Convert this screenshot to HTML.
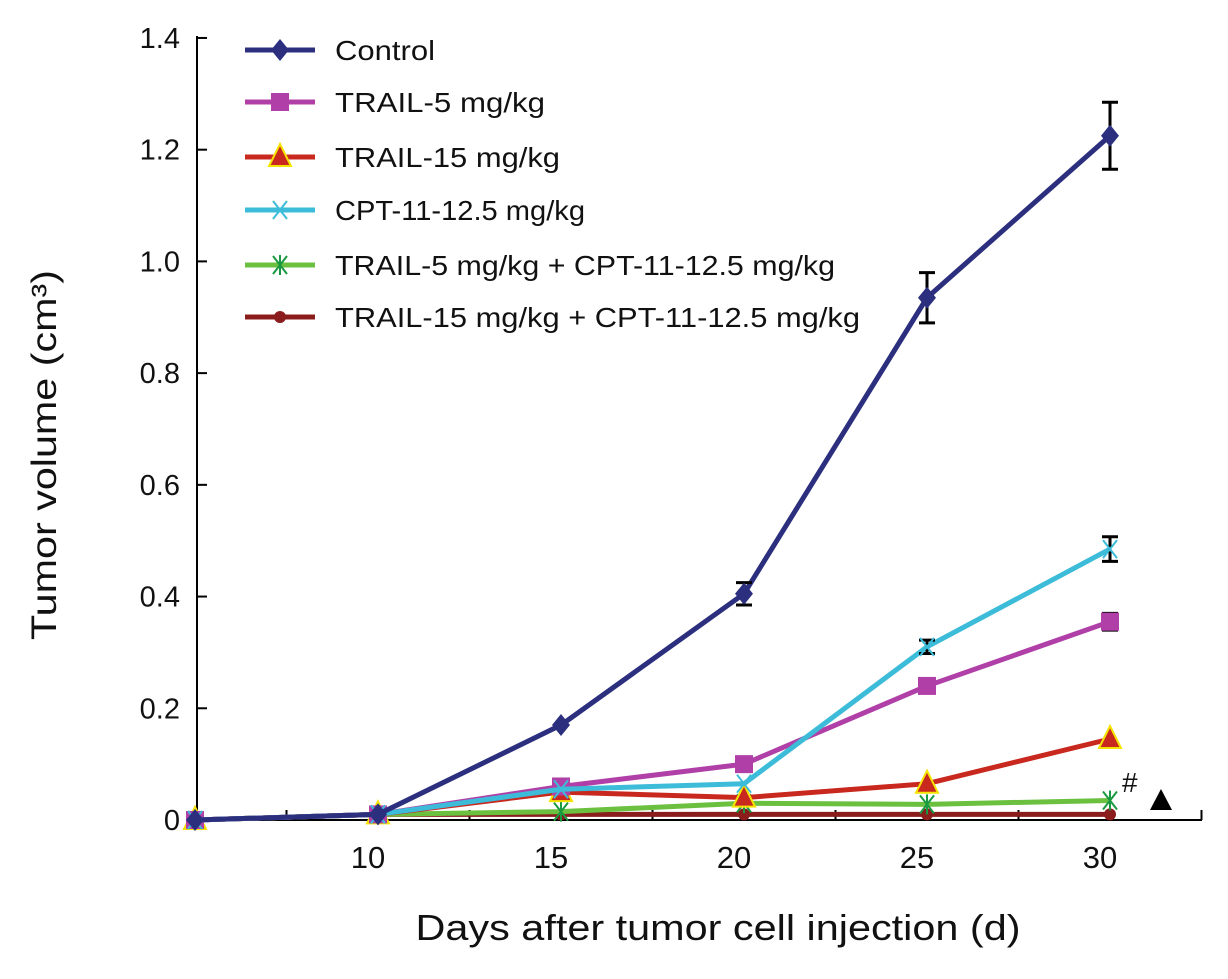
<!DOCTYPE html>
<html><head><meta charset="utf-8"><style>
html,body{margin:0;padding:0;background:#fff;}
svg text{font-family:"Liberation Sans Narrow","Liberation Sans",Arial,sans-serif;}
</style></head><body>
<svg id="chart" width="1228" height="974" viewBox="0 0 1228 974" xmlns="http://www.w3.org/2000/svg">
<g id="axes"></g>
<g id="series"></g>
<g id="legend"></g>
<text x="56" y="455" font-size="35" text-anchor="middle" textLength="370" lengthAdjust="spacingAndGlyphs" transform="rotate(-90 56 455)" fill="#111">Tumor volume (cm³)</text>
<text x="718" y="940" font-size="36" text-anchor="middle" textLength="605" lengthAdjust="spacingAndGlyphs" fill="#111">Days after tumor cell injection (d)</text>
<text x="1122" y="792" font-size="28" fill="#111">#</text>
<polygon points="1150,810 1172,810 1161,789" fill="#000"/>
</svg>
<script>
const days = [5, 10, 15, 20, 25, 30];
const xTickLabels = ["10", "15", "20", "25", "30"];
const yTicks = [0, 0.2, 0.4, 0.6, 0.8, 1.0, 1.2, 1.4];
const yTickLabels = ["0", "0.2", "0.4", "0.6", "0.8", "1.0", "1.2", "1.4"];
const seriesNames = ["Control", "TRAIL-5 mg/kg", "TRAIL-15 mg/kg", "CPT-11-12.5 mg/kg", "TRAIL-5 mg/kg + CPT-11-12.5 mg/kg", "TRAIL-15 mg/kg + CPT-11-12.5 mg/kg"];
const controlVals = [0, 0.01, 0.17, 0.405, 0.935, 1.225];
const trail5Vals = [0, 0.01, 0.06, 0.10, 0.24, 0.355];
const trail15Vals = [0, 0.01, 0.05, 0.04, 0.065, 0.145];
const cptVals = [0, 0.01, 0.055, 0.065, 0.31, 0.485];
const combo5Vals = [0, 0.01, 0.015, 0.03, 0.028, 0.035];
const combo15Vals = [0, 0.01, 0.01, 0.01, 0.01, 0.01];
const controlErr = [0, 0, 0, 0.02, 0.045, 0.06];
const trail5Err = [0, 0, 0, 0, 0, 0.015];
const cptErr = [0, 0, 0, 0, 0.012, 0.022];

const NS = "http://www.w3.org/2000/svg";
function xs(d){ return 195 + (d - 5) * 183 / 5; }
function ys(v){ return 820 - v * 558.6; }
function mk(tag, attrs, parent){
  const e = document.createElementNS(NS, tag);
  for (const k in attrs) e.setAttribute(k, attrs[k]);
  parent.appendChild(e);
  return e;
}
const axes = document.getElementById('axes');
let el = mk('line', {x1:197, y1:36, x2:197, y2:821, stroke:'#000', 'stroke-width':2}, axes);


el = mk('line', {x1:196, y1:820, x2:1202, y2:820, stroke:'#000', 'stroke-width':2}, axes);


yTicks.forEach((t, i) => {
  const y = ys(t);
  const tk = mk('line', {x1:197, y1:y, x2:207, y2:y, stroke:'#000', 'stroke-width':2}, axes);
  
  
  const lb = mk('text', {x:180, y:y + 10, 'font-size':29, 'text-anchor':'end', fill:'#111'}, axes);
  lb.textContent = yTickLabels[i];
  
  
});
for (let d = 7.5; d <= 32.5; d += 5) {
  const x = xs(d);
  const tk = mk('line', {x1:x, y1:810, x2:x, y2:820, stroke:'#000', 'stroke-width':2}, axes);
  
  
}
xTickLabels.forEach((l) => {
  const lb = mk('text', {x:xs(+l) - 10, y:868, 'font-size':31, 'text-anchor':'middle', fill:'#111'}, axes);
  lb.textContent = l;
  
  
});

const colors = ['#2b2f7e', '#b040a8', '#c8281e', '#3cbcd8', '#6cc040', '#8a1c1c'];
const allVals = [controlVals, trail5Vals, trail15Vals, cptVals, combo5Vals, combo15Vals];
const allErr = [controlErr, trail5Err, null, cptErr, null, null];
const markers = ['diamond', 'square', 'triangle', 'x', 'star', 'circle'];

function marker(type, x, y, c, g){
  let m;
  if (type === 'diamond') m = mk('polygon', {points:`${x},${y-11} ${x+9},${y} ${x},${y+11} ${x-9},${y}`, fill:c}, g);
  else if (type === 'square') m = mk('rect', {x:x-9, y:y-9, width:18, height:18, fill:c}, g);
  else if (type === 'triangle') m = mk('polygon', {points:`${x},${y-13} ${x+11},${y+9} ${x-11},${y+9}`, fill:c, stroke:'#f5e400', 'stroke-width':2}, g);
  else if (type === 'x') m = mk('path', {d:`M${x-7},${y-9}L${x+7},${y+9}M${x+7},${y-9}L${x-7},${y+9}`, stroke:c, 'stroke-width':2}, g);
  else if (type === 'star') m = mk('path', {d:`M${x-7},${y-9}L${x+7},${y+9}M${x+7},${y-9}L${x-7},${y+9}M${x},${y-10}L${x},${y+10}`, stroke:'#1a9a40', 'stroke-width':2}, g);
  else m = mk('circle', {cx:x, cy:y, r:6, fill:c}, g);
  return m;
}

const sg = document.getElementById('series');
[5, 4, 2, 1, 3, 0].forEach((si) => {
  const vals = allVals[si];
  const g = mk('g', {}, sg);
  
  
  const pts = days.map((d, i) => xs(d) + ',' + ys(vals[i])).join(' ');
  const pl = mk('polyline', {points:pts, fill:'none', stroke:colors[si], 'stroke-width':5, 'stroke-linejoin':'round'}, g);
  
  
  const err = allErr[si];
  days.forEach((d, i) => {
    const x = xs(d), y = ys(vals[i]);
    if (err && err[i] > 0) {
      const y1 = ys(vals[i] + err[i]), y2 = ys(vals[i] - err[i]);
      const eb = mk('path', {d:`M${x},${y1}L${x},${y2}M${x-8},${y1}L${x+8},${y1}M${x-8},${y2}L${x+8},${y2}`, stroke:'#000', 'stroke-width':3}, g);
      
      
    }
    const m = marker(markers[si], x, y, colors[si], g);
    
    
  });
});

const lg = document.getElementById('legend');
const legY = [50, 102, 157, 210, 265, 317];
const legW = [100, 210, 225, 250, 500, 525];
seriesNames.forEach((n, i) => {
  const g = mk('g', {}, lg);
  
  
  mk('line', {x1:245, y1:legY[i], x2:315, y2:legY[i], stroke:colors[i], 'stroke-width':5}, g);
  marker(markers[i], 280, legY[i], colors[i], g);
  const t = mk('text', {x:335, y:legY[i] + 10, 'font-size':28, fill:'#111', textLength:legW[i], lengthAdjust:'spacingAndGlyphs'}, g);
  t.textContent = n;
});
</script>
</body></html>
